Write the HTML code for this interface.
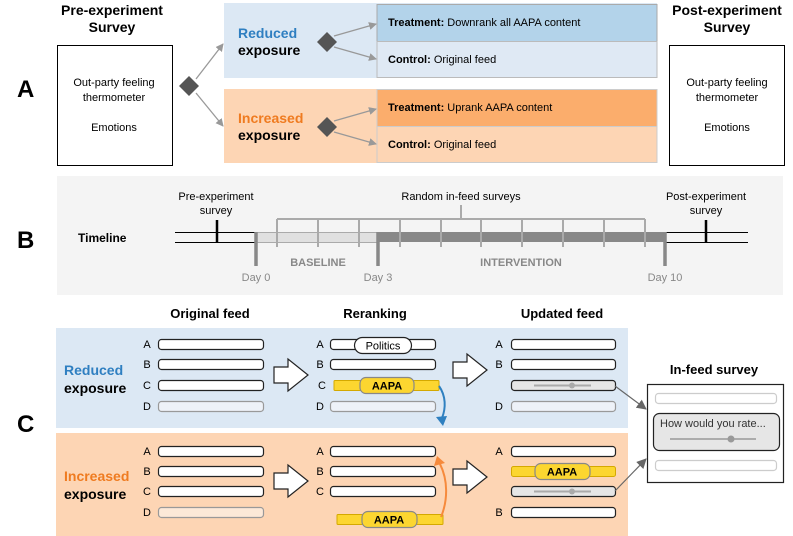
<!DOCTYPE html>
<html><head><meta charset="utf-8"><style>body{margin:0;background:#fff}svg{display:block}</style></head><body>
<svg width="793" height="536" viewBox="0 0 793 536" xmlns="http://www.w3.org/2000/svg" font-family="Liberation Sans, Arial, sans-serif">
<defs>
<marker id="ag" markerWidth="8" markerHeight="8" refX="7" refY="4" orient="auto" markerUnits="userSpaceOnUse"><path d="M0,0 L8,4 L0,8 Z" fill="#999"/></marker>
<marker id="ad" markerWidth="10" markerHeight="10" refX="9" refY="5" orient="auto" markerUnits="userSpaceOnUse"><path d="M0,0 L10,5 L0,10 Z" fill="#666"/></marker>
<marker id="ab" markerWidth="10" markerHeight="10" refX="5" refY="8" orient="auto-start-reverse" markerUnits="userSpaceOnUse"><path d="M0,0 L5,10 L10,0 L5,3Z" fill="#2f80c0"/></marker>
</defs>
<!-- Section A -->
<text x="17" y="97" font-size="24" font-weight="bold">A</text>
<text x="112" y="15" font-size="14" font-weight="bold" text-anchor="middle">Pre-experiment</text>
<text x="112" y="32" font-size="14" font-weight="bold" text-anchor="middle">Survey</text>
<rect x="57.5" y="45.5" width="115" height="120" fill="#fff" stroke="#000"/>
<text x="114" y="86" font-size="11" text-anchor="middle">Out-party feeling</text>
<text x="114" y="101" font-size="11" text-anchor="middle">thermometer</text>
<text x="114" y="131" font-size="11" text-anchor="middle">Emotions</text>
<line x1="196" y1="79" x2="223" y2="44" stroke="#999" stroke-width="1.3" marker-end="url(#ag)"/>
<line x1="196" y1="93" x2="223" y2="126" stroke="#999" stroke-width="1.3" marker-end="url(#ag)"/>
<path d="M189,76 L199,86 L189,96 L179,86Z" fill="#555"/>
<rect x="224" y="3" width="433" height="75" fill="#dce8f4"/>
<rect x="377" y="4.5" width="280" height="37" fill="#b3d3ea" stroke="#aaa"/>
<rect x="377" y="41.5" width="280" height="36" fill="#dfe9f4" stroke="#bbb"/>
<text x="238" y="38" font-size="14" font-weight="bold" fill="#2f7fc1">Reduced</text>
<text x="238" y="55" font-size="14" font-weight="bold">exposure</text>
<line x1="334" y1="36" x2="376" y2="24" stroke="#999" stroke-width="1.3" marker-end="url(#ag)"/>
<line x1="334" y1="47" x2="376" y2="59" stroke="#999" stroke-width="1.3" marker-end="url(#ag)"/>
<path d="M327,32 L337,42 L327,52 L317,42Z" fill="#555"/>
<text x="388" y="26" font-size="11"><tspan font-weight="bold">Treatment:</tspan> Downrank all AAPA content</text>
<text x="388" y="63" font-size="11"><tspan font-weight="bold">Control:</tspan> Original feed</text>
<rect x="224" y="89" width="433" height="74" fill="#fdd5b4"/>
<rect x="377" y="89.5" width="280" height="37" fill="#fbad6c" stroke="#ccc"/>
<rect x="377" y="126.5" width="280" height="36" fill="#fdd5b4" stroke="#ccc"/>
<text x="238" y="123" font-size="14" font-weight="bold" fill="#ef7b20">Increased</text>
<text x="238" y="140" font-size="14" font-weight="bold">exposure</text>
<line x1="334" y1="121" x2="376" y2="109" stroke="#999" stroke-width="1.3" marker-end="url(#ag)"/>
<line x1="334" y1="132" x2="376" y2="144" stroke="#999" stroke-width="1.3" marker-end="url(#ag)"/>
<path d="M327,117 L337,127 L327,137 L317,127Z" fill="#555"/>
<text x="388" y="111" font-size="11"><tspan font-weight="bold">Treatment:</tspan> Uprank AAPA content</text>
<text x="388" y="148" font-size="11"><tspan font-weight="bold">Control:</tspan> Original feed</text>
<text x="727" y="15" font-size="14" font-weight="bold" text-anchor="middle">Post-experiment</text>
<text x="727" y="32" font-size="14" font-weight="bold" text-anchor="middle">Survey</text>
<rect x="669.5" y="45.5" width="115" height="120" fill="#fff" stroke="#000"/>
<text x="727" y="86" font-size="11" text-anchor="middle">Out-party feeling</text>
<text x="727" y="101" font-size="11" text-anchor="middle">thermometer</text>
<text x="727" y="131" font-size="11" text-anchor="middle">Emotions</text>
<!-- Section B -->
<text x="17" y="248" font-size="24" font-weight="bold">B</text>
<rect x="57" y="176" width="726" height="119" fill="#f4f4f4"/>
<text x="78" y="242" font-size="12" font-weight="bold">Timeline</text>
<rect x="256" y="232" width="122" height="10" fill="#e0e0e0"/>
<rect x="378" y="232" width="287" height="10" fill="#888"/>
<line x1="175" y1="232.5" x2="256" y2="232.5" stroke="#000"/>
<line x1="175" y1="242.5" x2="256" y2="242.5" stroke="#000"/>
<line x1="665" y1="232.5" x2="748" y2="232.5" stroke="#000"/>
<line x1="665" y1="242.5" x2="748" y2="242.5" stroke="#000"/>
<line x1="256" y1="232.5" x2="378" y2="232.5" stroke="#aaa"/>
<line x1="256" y1="242.5" x2="378" y2="242.5" stroke="#aaa"/>
<line x1="217" y1="220" x2="217" y2="242" stroke="#000" stroke-width="2.5"/>
<line x1="706" y1="220" x2="706" y2="242" stroke="#000" stroke-width="2.5"/>
<g stroke="#aaa" stroke-width="2" fill="none">
<line x1="461" y1="205" x2="461" y2="219"/>
<line x1="277" y1="219" x2="645" y2="219"/>
<path d="M277,219V247M318,219V247M359,219V247M400,219V247M441,219V247M481,219V247M522,219V247M563,219V247M604,219V247M645,219V247"/>
</g>
<g stroke="#888" stroke-width="3.5"><line x1="256" y1="232" x2="256" y2="266"/><line x1="378" y1="232" x2="378" y2="266"/><line x1="665" y1="232" x2="665" y2="266"/></g>
<g font-size="11" text-anchor="middle">
<text x="216" y="200">Pre-experiment</text><text x="216" y="214">survey</text>
<text x="706" y="200">Post-experiment</text><text x="706" y="214">survey</text>
<text x="461" y="200">Random in-feed surveys</text>
</g>
<g font-size="11" text-anchor="middle" fill="#888">
<text x="256" y="281">Day 0</text><text x="378" y="281">Day 3</text><text x="665" y="281">Day 10</text>
<text x="318" y="266" font-weight="bold">BASELINE</text><text x="521" y="266" font-weight="bold">INTERVENTION</text>
</g>
<!-- Section C -->
<text x="17" y="432" font-size="24" font-weight="bold">C</text>
<g font-size="13" font-weight="bold" text-anchor="middle">
<text x="210" y="318">Original feed</text><text x="375" y="318">Reranking</text><text x="562" y="318">Updated feed</text>
<text x="714" y="374">In-feed survey</text>
</g>
<rect x="56" y="328" width="572" height="100" fill="#dce8f4"/>
<rect x="56" y="433" width="572" height="103" fill="#fdd5b4"/>
<text x="64" y="375" font-size="14" font-weight="bold" fill="#2f7fc1">Reduced</text>
<text x="64" y="393" font-size="14" font-weight="bold">exposure</text>
<text x="64" y="481" font-size="14" font-weight="bold" fill="#ef7b20">Increased</text>
<text x="64" y="499" font-size="14" font-weight="bold">exposure</text>
<g font-size="11" text-anchor="middle">
<text x="147" y="348">A</text><text x="147" y="368">B</text><text x="147" y="389">C</text><text x="147" y="410">D</text>
<text x="147" y="455">A</text><text x="147" y="475">B</text><text x="147" y="495">C</text><text x="147" y="516">D</text>
<text x="320" y="348">A</text><text x="320" y="368">B</text><text x="322" y="389">C</text><text x="320" y="410">D</text>
<text x="320" y="455">A</text><text x="320" y="475">B</text><text x="320" y="495">C</text>
<text x="499" y="348">A</text><text x="499" y="368">B</text><text x="499" y="410">D</text>
<text x="499" y="455">A</text><text x="499" y="516">B</text>
</g>
<g stroke="#222" stroke-width="1.2" fill="#fff">
<rect x="158.5" y="339.5" width="105" height="10" rx="3"/><rect x="158.5" y="359.5" width="105" height="10" rx="3"/><rect x="158.5" y="380.5" width="105" height="10" rx="3"/>
<rect x="158.5" y="446.5" width="105" height="10" rx="3"/><rect x="158.5" y="466.5" width="105" height="10" rx="3"/><rect x="158.5" y="486.5" width="105" height="10" rx="3"/>
<rect x="330.5" y="339.5" width="105" height="10" rx="3"/><rect x="330.5" y="359.5" width="105" height="10" rx="3"/>
<rect x="330.5" y="446.5" width="105" height="10" rx="3"/><rect x="330.5" y="466.5" width="105" height="10" rx="3"/><rect x="330.5" y="486.5" width="105" height="10" rx="3"/>
<rect x="511.5" y="339.5" width="104" height="10" rx="3"/><rect x="511.5" y="359.5" width="104" height="10" rx="3"/>
<rect x="511.5" y="446.5" width="104" height="10" rx="3"/><rect x="511.5" y="507.5" width="104" height="10" rx="3"/>
</g>
<g stroke="#999" stroke-width="1.2">
<rect x="158.5" y="401.5" width="105" height="10" rx="3" fill="#eef2f8"/>
<rect x="330.5" y="401.5" width="105" height="10" rx="3" fill="#eef2f8"/>
<rect x="511.5" y="401.5" width="104" height="10" rx="3" fill="#eef2f8"/>
<rect x="158.5" y="507.5" width="105" height="10" rx="3" fill="#fce9d8"/>
</g>
<rect x="354.5" y="337.5" width="57" height="16" rx="8" fill="#fff" stroke="#222" stroke-width="1.2"/>
<text x="383" y="349.5" font-size="11" text-anchor="middle">Politics</text>
<!-- AAPA bars -->
<g stroke="#d4a900" fill="#fcd630">
<rect x="334" y="380.5" width="105" height="10" rx="1"/>
<rect x="337" y="514.5" width="106" height="10" rx="1"/>
<rect x="511.5" y="466.5" width="104" height="10" rx="2"/>
</g>
<g stroke="#888" stroke-width="1.2" fill="#fcd630">
<rect x="360" y="377.5" width="54" height="16" rx="6"/>
<rect x="362" y="511.5" width="55" height="16" rx="6"/>
<rect x="535" y="463.5" width="55" height="16" rx="6"/>
</g>
<g font-size="11" font-weight="bold" text-anchor="middle">
<text x="387" y="389.5">AAPA</text><text x="389" y="523.5">AAPA</text><text x="562" y="475.5">AAPA</text>
</g>
<!-- survey bars in updated -->
<g>
<rect x="511.5" y="380.5" width="104" height="10" rx="3" fill="#e6e6e6" stroke="#222" stroke-width="1.2"/>
<line x1="534" y1="385.5" x2="591" y2="385.5" stroke="#aaa" stroke-width="2"/><circle cx="572" cy="385.5" r="3" fill="#aaa"/>
<rect x="511.5" y="486.5" width="104" height="10" rx="3" fill="#e6e6e6" stroke="#222" stroke-width="1.2"/>
<line x1="534" y1="491.5" x2="591" y2="491.5" stroke="#aaa" stroke-width="2"/><circle cx="572" cy="491.5" r="3" fill="#aaa"/>
</g>
<!-- block arrows -->
<g fill="#fff" stroke="#222" stroke-width="1.2">
<path d="M274,367 H288 V359 L308,375 L288,391 V383 H274Z"/>
<path d="M274,473 H288 V465 L308,481 L288,497 V489 H274Z"/>
<path d="M453,362 H467 V354 L487,370 L467,386 V378 H453Z"/>
<path d="M453,469 H467 V461 L487,477 L467,493 V485 H453Z"/>
</g>
<!-- curved arrows -->
<path d="M439,386 C446,396 446,408 442,418" fill="none" stroke="#2f80c0" stroke-width="2"/>
<path d="M436,417 L443,426 L447,416Z" fill="#2f80c0"/>
<path d="M441,517 C448,500 448,480 440,464" fill="none" stroke="#f68a3c" stroke-width="2"/>
<path d="M434,466 L437,456 L445,463Z" fill="#f68a3c"/>
<!-- in-feed survey -->
<line x1="615" y1="386" x2="646" y2="409" stroke="#666" stroke-width="1.2" marker-end="url(#ad)"/>
<line x1="615" y1="491" x2="646" y2="459" stroke="#666" stroke-width="1.2" marker-end="url(#ad)"/>
<rect x="647.5" y="384.5" width="136" height="98" fill="#fff" stroke="#222" stroke-width="1.2"/>
<rect x="655.5" y="393.5" width="121" height="10" rx="3" fill="#fff" stroke="#ccc" stroke-width="1.2"/>
<rect x="653.5" y="413.5" width="126" height="37" rx="6" fill="#e6e6e6" stroke="#222" stroke-width="1.2"/>
<text x="660" y="427" font-size="11" fill="#333">How would you rate...</text>
<line x1="670" y1="439" x2="756" y2="439" stroke="#999" stroke-width="1.5"/><circle cx="731" cy="439" r="3.5" fill="#999"/>
<rect x="655.5" y="460.5" width="121" height="10" rx="3" fill="#fff" stroke="#ccc" stroke-width="1.2"/>
</svg>
</body></html>
